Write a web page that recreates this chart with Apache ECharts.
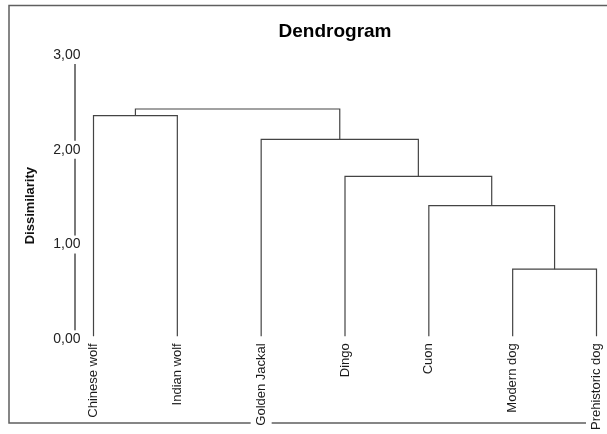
<!DOCTYPE html>
<html>
<head>
<meta charset="utf-8">
<script src="https://cdn.jsdelivr.net/npm/echarts@6/dist/echarts.min.js"></script>
<style>
  html, body { margin: 0; padding: 0; background: #fff; }
  #chart { width: 607px; height: 434px; }
</style>
</head>
<body>
<div id="chart"></div>
<script>
// Leaves of the tree, left to right
const leaves = ['Chinese wolf', 'Indian wolf', 'Golden Jackal', 'Dingo', 'Cuon', 'Modern dog', 'Prehistoric dog'];
// Merge k joins mergeLeft[k] and mergeRight[k]; the new cluster gets id leaves.length + k
const mergeLeft   = [5, 4, 3, 2, 0, 11];
const mergeRight  = [6, 7, 8, 9, 1, 10];
const mergeHeight = [0.74, 1.41, 1.72, 2.11, 2.36, 2.43];
// Dissimilarity axis ticks
const yTicks = [0, 1, 2, 3];

const FONT = '"Liberation Sans", Arial, sans-serif';

// Position of every node: leaves sit at their index, clusters at the middle of their children
const nodeX = leaves.map((_, i) => i);
const nodeH = leaves.map(() => 0);
const links = [];
mergeHeight.forEach((h, k) => {
  const a = mergeLeft[k], b = mergeRight[k];
  links.push([nodeX[a], nodeH[a], nodeX[b], nodeH[b], h]);
  nodeX.push((nodeX[a] + nodeX[b]) / 2);
  nodeH.push(h);
});

const chart = echarts.init(document.getElementById('chart'), null, { renderer: 'canvas' });

chart.setOption({
  animation: false,
  backgroundColor: '#fff',
  title: {
    text: 'Dendrogram',
    left: 330,
    textAlign: 'center',
    top: 17,
    textStyle: { fontFamily: FONT, fontSize: 19, fontWeight: 'bold', color: '#000' }
  },
  graphic: [{
    type: 'rect',
    z: -1,
    silent: true,
    shape: { x: 9, y: 5.5, width: 700, height: 417.5 },
    style: { fill: null, stroke: '#5f5f5f', lineWidth: 1.5 }
  }],
  grid: { left: 93.5, right: 10.5, top: 55, bottom: 93 },
  xAxis: [{
    type: 'value',
    min: 0,
    max: leaves.length - 1,
    show: false
  }, {
    type: 'category',
    data: leaves,
    boundaryGap: false,
    position: 'bottom',
    axisLine: { show: false },
    axisTick: { show: false },
    axisLabel: {
      rotate: 90,
      margin: 2,
      interval: 0,
      fontFamily: FONT,
      fontSize: 13,
      lineHeight: 13,
      color: '#1a1a1a',
      backgroundColor: '#fff',
      padding: [8, 2, 0, 1]
    }
  }],
  yAxis: {
    type: 'value',
    min: yTicks[0],
    max: yTicks[yTicks.length - 1],
    interval: 1,
    offset: 19,
    splitLine: { show: false },
    axisTick: { show: false },
    axisLine: { show: true, onZero: false, lineStyle: { color: '#7a7a7a', width: 2 } },
    axisLabel: {
      margin: -8,
      fontFamily: FONT,
      fontSize: 14,
      lineHeight: 12,
      color: '#222',
      backgroundColor: '#fff',
      padding: [6, 2, 0, 2],
      formatter: v => v.toFixed(2).replace('.', ',')
    },
    name: 'Dissimilarity',
    nameLocation: 'middle',
    nameRotate: 90,
    nameGap: 38,
    nameTextStyle: {
      fontFamily: FONT,
      fontSize: 13,
      fontWeight: 'bold',
      color: '#111',
      padding: [0, 17, 0, 0]
    }
  },
  series: [{
    type: 'custom',
    xAxisIndex: 0,
    yAxisIndex: 0,
    data: links,
    renderItem: (params, api) => {
      const x1 = api.value(0), h1 = api.value(1);
      const x2 = api.value(2), h2 = api.value(3);
      const h = api.value(4);
      const p1 = api.coord([x1, h1]);
      const p2 = api.coord([x1, h]);
      const p3 = api.coord([x2, h]);
      const p4 = api.coord([x2, h2]);
      // leaf stems stop a little above the baseline
      if (h1 === 0) p1[1] -= 3;
      if (h2 === 0) p4[1] -= 3;
      return {
        type: 'polyline',
        shape: { points: [p1, p2, p3, p4] },
        style: { stroke: '#444', lineWidth: 1.2, fill: null }
      };
    }
  }]
});
</script>
</body>
</html>
